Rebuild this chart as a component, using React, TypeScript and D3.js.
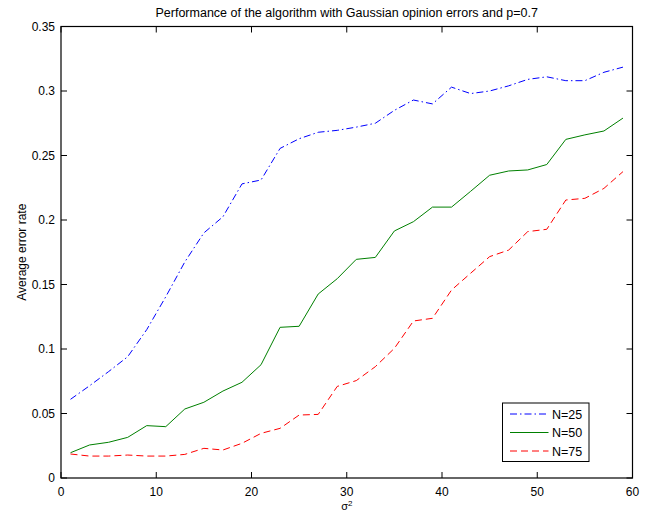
import React from "react";
import * as d3 from "d3";

const sigma2 = [1, 3, 5, 7, 9, 11, 13, 15, 17, 19, 21, 23, 25, 27, 29, 31, 33, 35, 37, 39, 41, 43, 45, 47, 49, 51, 53, 55, 57, 59];
const n25 = [0.061, 0.0715, 0.0825, 0.094, 0.115, 0.1405, 0.1675, 0.19, 0.2025, 0.228, 0.231, 0.2555, 0.263, 0.268, 0.2695, 0.272, 0.275, 0.285, 0.293, 0.29, 0.303, 0.298, 0.3, 0.304, 0.309, 0.311, 0.308, 0.308, 0.3145, 0.3185];
const n50 = [0.0196, 0.0256, 0.0277, 0.0315, 0.0406, 0.0398, 0.0535, 0.0587, 0.0674, 0.0742, 0.0878, 0.1168, 0.1176, 0.1426, 0.1545, 0.1695, 0.171, 0.1915, 0.1987, 0.21, 0.21, 0.2222, 0.2347, 0.238, 0.2388, 0.243, 0.2625, 0.266, 0.269, 0.279];
const n75 = [0.0186, 0.017, 0.017, 0.0178, 0.017, 0.017, 0.0183, 0.023, 0.0217, 0.0269, 0.0346, 0.0385, 0.0488, 0.0493, 0.071, 0.0755, 0.0863, 0.1005, 0.1217, 0.1238, 0.1457, 0.1587, 0.1716, 0.1767, 0.191, 0.1928, 0.2155, 0.2168, 0.2245, 0.2375];
const seriesNames = ["N=25", "N=50", "N=75"];
const xTicks = [0, 10, 20, 30, 40, 50, 60];
const yTicks = [0, 0.05, 0.1, 0.15, 0.2, 0.25, 0.3, 0.35];
const yTickLabels = ["0", "0.05", "0.1", "0.15", "0.2", "0.25", "0.3", "0.35"];

const W = 655, H = 511;
const L = 61, R = 632.5, T = 26.5, B = 478;
const FONT = "'Liberation Sans', Arial, Helvetica, sans-serif";

export default function App() {
  const x = d3.scaleLinear().domain([0, 60]).range([L, R]);
  const y = d3.scaleLinear().domain([0, 0.35]).range([B, T]);
  const line = d3.line<[number, number]>().x(d => x(d[0])).y(d => y(d[1]));
  const styles = [
    { color: "#0000ff", dash: "7,3,1.5,3" },
    { color: "#008000", dash: "none" },
    { color: "#ff0000", dash: "7,4" },
  ];
  const data = [n25, n50, n75];
  const tickLen = 6;
  const legX = 502.5, legY = 403, legW = 86.5, legH = 58.5;
  const rowY = [414, 432.5, 451];

  return (
    <svg width={W} height={H} style={{ position: "absolute", left: 0, top: 0, background: "#fff" }} fontFamily={FONT}>
      <rect x={0} y={0} width={W} height={H} fill="#fff" />
      {data.map((vals, i) => (
        <path key={i}
          d={line(sigma2.map((s, j) => [s, vals[j]] as [number, number])) || ""}
          fill="none" stroke={styles[i].color} strokeWidth={1}
          strokeDasharray={styles[i].dash} />
      ))}
      {/* axes box */}
      <rect x={L} y={T} width={R - L} height={B - T} fill="none" stroke="#000" strokeWidth={1.2} />
      {xTicks.map(t => (
        <g key={"x" + t}>
          <line x1={x(t)} x2={x(t)} y1={B} y2={B - tickLen} stroke="#000" />
          <line x1={x(t)} x2={x(t)} y1={T} y2={T + tickLen} stroke="#000" />
          <text x={x(t)} y={495.5} fontSize={12} textAnchor="middle">{t}</text>
        </g>
      ))}
      {yTicks.map((t, i) => (
        <g key={"y" + t}>
          <line x1={L} x2={L + tickLen} y1={y(t)} y2={y(t)} stroke="#000" />
          <line x1={R} x2={R - tickLen} y1={y(t)} y2={y(t)} stroke="#000" />
          <text x={55} y={y(t) + 4} fontSize={12} textAnchor="end">{yTickLabels[i]}</text>
        </g>
      ))}
      <text x={(L + R) / 2} y={17} fontSize={12.5} textAnchor="middle">
        Performance of the algorithm with Gaussian opinion errors and p=0.7
      </text>
      <text transform={`translate(26,${(T + B) / 2}) rotate(-90)`} fontSize={12} textAnchor="middle">
        Average error rate
      </text>
      <text x={(L + R) / 2} y={510} fontSize={11} textAnchor="middle">
        σ<tspan fontSize={8} dy={-4}>2</tspan>
      </text>
      {/* legend */}
      <rect x={legX} y={legY} width={legW} height={legH} fill="#fff" stroke="#000" strokeWidth={1} />
      {seriesNames.map((n, i) => (
        <g key={n}>
          <line x1={510} x2={548.5} y1={rowY[i]} y2={rowY[i]} stroke={styles[i].color}
            strokeDasharray={styles[i].dash} strokeWidth={1} />
          <text x={552} y={rowY[i] + 4.5} fontSize={12.5}>{n}</text>
        </g>
      ))}
    </svg>
  );
}
